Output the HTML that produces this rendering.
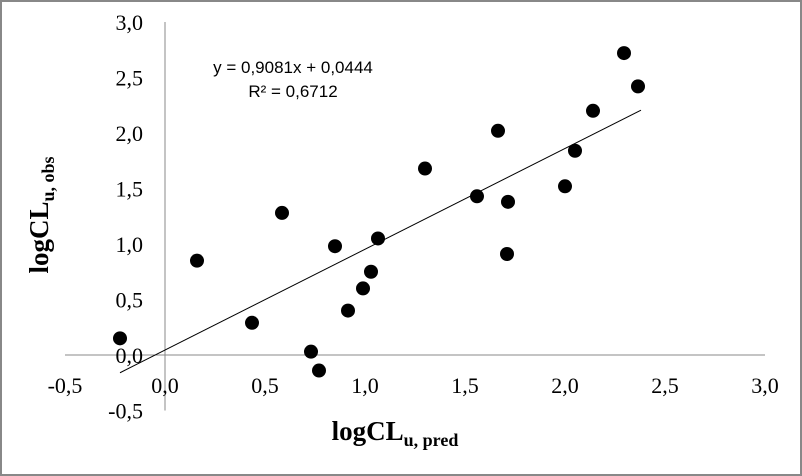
<!DOCTYPE html>
<html><head><meta charset="utf-8"><style>
html,body{margin:0;padding:0;background:#fff}
svg{display:block}
</style></head><body>
<svg width="802" height="476" xmlns="http://www.w3.org/2000/svg">
<rect x="1" y="1" width="800" height="474" fill="#fff" stroke="#888" stroke-width="2"/>
<g id="axes"></g>
<g id="marks"></g>
<text x="293" y="73" font-family="Liberation Sans, sans-serif" font-size="17" text-anchor="middle">y = 0,9081x + 0,0444</text>
<text x="293" y="97" font-family="Liberation Sans, sans-serif" font-size="17" text-anchor="middle">R² = 0,6712</text>
<text x="48" y="215" transform="rotate(-90 48 215)" font-family="Liberation Serif, serif" font-size="27" font-weight="bold" text-anchor="middle">logCL<tspan font-size="18" dy="6">u, obs</tspan></text>
<text x="395" y="440" font-family="Liberation Serif, serif" font-size="27" font-weight="bold" text-anchor="middle">logCL<tspan font-size="18" dy="6">u, pred</tspan></text>
</svg>
<script>
const xTicks = [-0.5, 0, 0.5, 1, 1.5, 2, 2.5, 3];
const yTicks = [-0.5, 0, 0.5, 1, 1.5, 2, 2.5, 3];
const xVals = [-0.225, 0.16, 0.435, 0.585, 0.73, 0.77, 0.85, 0.915, 0.99, 1.03, 1.065, 1.30, 1.56, 1.665, 1.715, 1.71, 2.0, 2.05, 2.14, 2.295, 2.365];
const yVals = [0.15, 0.85, 0.29, 1.28, 0.03, -0.14, 0.98, 0.40, 0.60, 0.75, 1.05, 1.68, 1.43, 2.02, 1.38, 0.91, 1.52, 1.84, 2.20, 2.72, 2.42];
const slope = 0.9081, intercept = 0.0444;
const trendRange = [-0.225, 2.38];

const NS = "http://www.w3.org/2000/svg";
const sx = v => 165 + v * 200;
const sy = v => 355 - v * 111;
const fmt = v => v.toFixed(1).replace('.', ',');
function mk(tag, attrs, parent) {
  const e = document.createElementNS(NS, tag);
  for (const k in attrs) e.setAttribute(k, attrs[k]);
  parent.appendChild(e);
  return e;
}
const axes = document.getElementById('axes');
const marks = document.getElementById('marks');
const xl = mk('line', {x1: sx(-0.5), x2: sx(3), y1: sy(0), y2: sy(0), stroke: '#888', 'stroke-width': 1}, axes);


const yl = mk('line', {x1: sx(0), x2: sx(0), y1: sy(3), y2: sy(-0.5), stroke: '#888', 'stroke-width': 1}, axes);


xTicks.forEach(v => {
  const t = mk('text', {x: sx(v), y: 393, 'font-family': 'Liberation Serif, serif', 'font-size': 22, 'text-anchor': 'middle'}, axes);
  t.textContent = fmt(v);
  
  
});
yTicks.forEach(v => {
  const t = mk('text', {x: 143, y: sy(v) + 8, 'font-family': 'Liberation Serif, serif', 'font-size': 22, 'text-anchor': 'end'}, axes);
  t.textContent = fmt(v);
  
  
});
const tl = mk('line', {x1: sx(trendRange[0]), y1: sy(slope * trendRange[0] + intercept), x2: sx(trendRange[1]), y2: sy(slope * trendRange[1] + intercept), stroke: '#000', 'stroke-width': 1}, marks);


xVals.forEach((v, i) => {
  const c = mk('circle', {cx: sx(v), cy: sy(yVals[i]), r: 7, fill: '#000'}, marks);
  
  
});
</script>
</body></html>
